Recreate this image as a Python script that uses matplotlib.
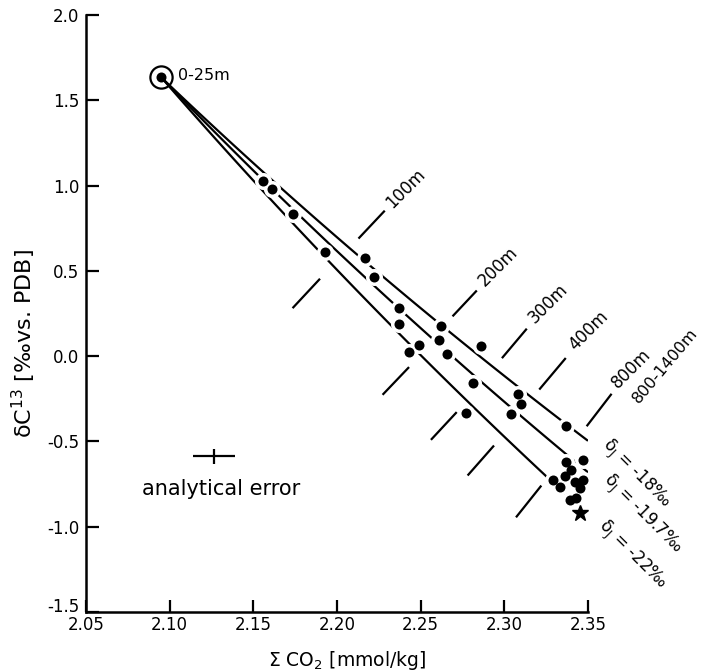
import numpy as np
import matplotlib
matplotlib.use("Agg")
import matplotlib.pyplot as plt
import matplotlib.transforms as mtransforms

plt.rcParams['font.family'] = ['DejaVu Sans']
plt.rcParams['axes.unicode_minus'] = False

# surface water end member (0-25 m)
c_surface = 2.095
d_surface = 1.634

# delta of the added organic carbon for the three mixing lines, and where each line stops
delta_org = [-18.0, -19.7, -22.0]
line_end = [2.35, 2.35, 2.343]
delta_text = ['δ$_\\mathrm{J}$ = -18‰', 'δ$_\\mathrm{J}$ = -19.7‰', 'δ$_\\mathrm{J}$ = -22‰']
delta_text_x = [2.3785, 2.3823, 2.3761]
delta_text_y = [-0.695, -0.930, -1.171]

# measured samples, sum CO2 (mmol/kg) and delta C13
sample_co2 = [2.156, 2.161, 2.174, 2.193, 2.217, 2.222, 2.237, 2.237, 2.249, 2.243,
              2.262, 2.261, 2.286, 2.266, 2.281, 2.308, 2.310, 2.277, 2.304, 2.337,
              2.337, 2.347, 2.329, 2.333, 2.336, 2.340, 2.342, 2.345, 2.347, 2.339,
              2.343]
sample_d13 = [1.024, 0.977, 0.834, 0.611, 0.576, 0.465, 0.285, 0.189, 0.066, 0.022,
              0.177, 0.097, 0.058, 0.013, -0.157, -0.220, -0.281, -0.333, -0.342, -0.408,
              -0.619, -0.607, -0.725, -0.766, -0.701, -0.666, -0.736, -0.772, -0.725, -0.842,
              -0.830]
star_co2 = 2.345
star_d13 = -0.920

# depth markers: short strokes above and below the fan
depth_names = ['100m', '200m', '300m', '400m', '800m']
upper_x0 = [2.2133, 2.2695, 2.2990, 2.3213, 2.3496]
upper_y0 = [0.694, 0.238, -0.007, -0.191, -0.406]
upper_x1 = [2.2281, 2.2831, 2.3130, 2.3363, 2.3637]
upper_y1 = [0.848, 0.380, 0.156, -0.016, -0.226]
lower_x0 = [2.1739, 2.2277, 2.2566, 2.2785, 2.3074]
lower_y0 = [0.286, -0.222, -0.486, -0.695, -0.940]
lower_x1 = [2.1894, 2.2426, 2.2711, 2.2934, 2.3217]
lower_y1 = [0.449, -0.069, -0.333, -0.529, -0.764]
depth_text_x = [2.2411, 2.2964, 2.3263, 2.3506, 2.3761]
depth_text_y = [0.982, 0.527, 0.307, 0.151, -0.075]

# analytical error cross
err_x, err_y = 2.1265, -0.588
err_dx, err_dy = 0.0123, 0.045

fig = plt.figure(figsize=(7.03, 6.72), dpi=100)
ax = fig.add_axes([0.1223, 0.0893, 0.8364 - 0.1223, 0.9777 - 0.0893])

# mixing lines between surface water and remineralised organic carbon
for dj, cend in zip(delta_org, line_end):
    c = np.linspace(c_surface, cend, 80)
    d = (c_surface * d_surface + (c - c_surface) * dj) / c
    ax.plot(c, d, color='black', lw=1.6, zorder=2, solid_capstyle='butt')

# white halos break the lines around each dot
ax.scatter(sample_co2, sample_d13, s=150, color='white', zorder=3, linewidths=0)
ax.scatter(sample_co2, sample_d13, s=52, color='black', zorder=4, linewidths=0)
ax.scatter([c_surface], [d_surface], s=52, color='black', zorder=4, linewidths=0)
ax.plot([c_surface], [d_surface], marker='o', ms=16, mfc='none', mec='black', mew=1.6,
        zorder=4)
ax.plot([star_co2], [star_d13], marker='*', ms=12, color='black', zorder=4)

for i in range(len(depth_names)):
    ax.plot([upper_x0[i], upper_x1[i]], [upper_y0[i], upper_y1[i]], color='black',
            lw=1.6, clip_on=False)
    ax.plot([lower_x0[i], lower_x1[i]], [lower_y0[i], lower_y1[i]], color='black',
            lw=1.6, clip_on=False)
    ax.text(depth_text_x[i], depth_text_y[i], depth_names[i], rotation=45,
            rotation_mode='anchor', ha='center', va='center', fontsize=12)
ax.text(2.3962, -0.055, '800-1400m', rotation=50, rotation_mode='anchor',
        ha='center', va='center', fontsize=11.5)

for t, tx, ty in zip(delta_text, delta_text_x, delta_text_y):
    ax.text(tx, ty, t, rotation=-45, rotation_mode='anchor', ha='center',
            va='center', fontsize=12)

ax.text(2.1052, 1.646, '0-25m', ha='left', va='center', fontsize=11.5)

ax.errorbar([err_x], [err_y], xerr=[err_dx], yerr=[err_dy], fmt='none',
            ecolor='black', elinewidth=1.6, capsize=0)
ax.text(2.1305, -0.778, 'analytical error', ha='center', va='center', fontsize=15)

ax.set_xlim(2.05, 2.35)
ax.set_ylim(-1.5, 2.0)
xt = [2.05, 2.10, 2.15, 2.20, 2.25, 2.30, 2.35]
yt = [2.0, 1.5, 1.0, 0.5, 0.0, -0.5, -1.0, -1.5]
ax.set_xticks(xt)
ax.set_xticklabels(['%.2f' % v for v in xt])
ax.set_yticks(yt)
ax.set_yticklabels(['%.1f' % v for v in yt])
ax.tick_params(direction='in', length=9, width=1.6, labelsize=12)
ax.tick_params(axis='x', pad=3)
ax.tick_params(axis='y', pad=5)
for s in ['top', 'right']:
    ax.spines[s].set_visible(False)
for s in ['left', 'bottom']:
    ax.spines[s].set_linewidth(1.8)

# lift the lowest y label clear of the first x label
low = ax.get_yticklabels()[-1]
low.set_transform(low.get_transform() +
                  mtransforms.ScaledTranslation(0, 5 / 72, fig.dpi_scale_trans))

ax.set_xlabel('Σ CO$_2$ [mmol/kg]', fontsize=13.5)
ax.xaxis.set_label_coords(0.52, -0.062)
ax.set_ylabel('δC$^{13}$ [‰vs. PDB]', fontsize=16)
ax.yaxis.set_label_coords(-0.095, 0.45)

fig.savefig('out.png', dpi=100)
